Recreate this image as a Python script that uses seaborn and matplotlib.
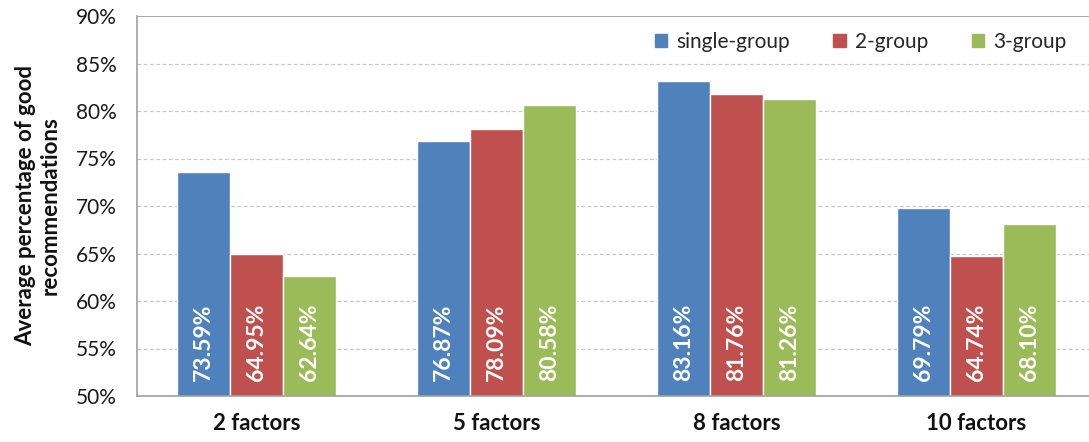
import matplotlib
matplotlib.use("Agg")
import matplotlib.pyplot as plt
import matplotlib.transforms as mtransforms
import seaborn as sns
import pandas as pd
import numpy as np

# Chart data
categories = ["2 factors", "5 factors", "8 factors", "10 factors"]
series = ["single-group", "2-group", "3-group"]
single_group = [73.59, 76.87, 83.16, 69.79]
two_group = [64.95, 78.09, 81.76, 64.74]
three_group = [62.64, 80.58, 81.26, 68.10]
y_ticks = [50, 55, 60, 65, 70, 75, 80, 85, 90]
colors = ["#4F81BD", "#C0504D", "#9BBB59"]

rows = []
for name, vals in zip(series, [single_group, two_group, three_group]):
    for cat, v in zip(categories, vals):
        rows.append({"factors": cat, "group": name, "value": v})
df = pd.DataFrame(rows)

sns.set_theme(style="white")
plt.rcParams["font.family"] = ["Lato", "DejaVu Sans"]

W, H = 1089, 442
fig = plt.figure(figsize=(W / 100, H / 100), dpi=100)
ax = fig.add_axes([136.5 / W, (H - 396) / H, 960 / W, 380 / H])

sns.barplot(data=df, x="factors", y="value", hue="group", order=categories,
            hue_order=series, palette=colors, width=0.662, saturation=1,
            errorbar=None, ax=ax, legend=False)

ax.set_xlim(-0.5, len(categories) - 0.5)
ax.set_ylim(50, 90)
ax.set_yticks(y_ticks)
ax.set_yticklabels([f"{t}%" for t in y_ticks], fontsize=15, color="#1a1a1a")

# dashed horizontal gridlines, solid line at the top
for t in y_ticks[1:-1]:
    ax.axhline(t, color="#c8c8c8", lw=0.9, ls=(0, (3, 2)), zorder=0)
ax.axhline(90, color="#9a9a9a", lw=1.2, zorder=0)

for side in ["top", "right"]:
    ax.spines[side].set_visible(False)
for side in ["left", "bottom"]:
    ax.spines[side].set_color("#a0a0a0")
    ax.spines[side].set_linewidth(1.2)

# category labels centred, tick marks between groups
ax.set_xticks(range(len(categories)))
ax.set_xticklabels(categories, fontsize=16, fontweight="bold", color="#111111")
ax.tick_params(axis="x", length=0, pad=12)
ax.set_xticks([i + 0.5 for i in range(len(categories) - 1)], minor=True)
ax.tick_params(axis="x", which="minor", length=6, width=1.2, color="#a0a0a0", direction="out")
ax.tick_params(axis="y", length=6, width=1.2, color="#a0a0a0", direction="out", pad=8)
ax.set_xlabel("")
ax.set_ylabel("Average percentage of good\nrecommendations", fontsize=16,
              fontweight="bold", color="#111111", labelpad=11, linespacing=1.25)

# value labels inside bars
trans = mtransforms.blended_transform_factory(ax.transData, ax.transAxes)
for container, vals in zip(ax.containers, [single_group, two_group, three_group]):
    for patch, v in zip(container.patches, vals):
        xc = patch.get_x() + patch.get_width() / 2
        ax.text(xc, 0.04, f"{v:.2f}%", transform=trans, rotation=90,
                ha="center", va="bottom", color="white", fontsize=16.5,
                fontweight="bold")

# legend
handles = [plt.Rectangle((0, 0), 1, 1, color=c) for c in colors]
fig.legend(handles, series, loc="center left", bbox_to_anchor=(636 / W, 1 - 42 / H),
           ncol=3, frameon=False, fontsize=15, handlelength=0.6, handleheight=0.6,
           handletextpad=0.45, columnspacing=2.07)

fig.savefig("out.png", dpi=100)
